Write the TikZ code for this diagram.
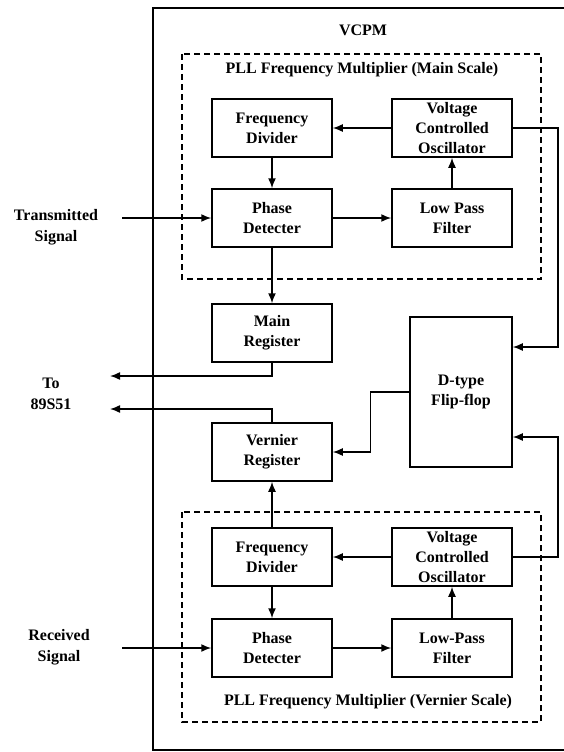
\documentclass[tikz,border=0pt]{standalone}
\usepackage{fontspec}
\setmainfont{Liberation Serif}
\usetikzlibrary{arrows.meta,positioning}
\tikzset{
  blk/.style={draw,line width=1.5pt,minimum width=120pt,minimum height=58pt,
    align=center,inner sep=0pt,font=\bfseries\fontsize{16}{20}\selectfont},
  lbl/.style={align=center,inner sep=0pt,font=\bfseries\fontsize{16}{21}\selectfont},
  pllbox/.style={draw,line width=1.5pt,dash pattern=on 6pt off 4pt},
  wire/.style={line width=1.5pt},
  >={Latex[length=10pt,width=8pt]}
}
\begin{document}
\begin{tikzpicture}[x=1pt,y=-1pt]
\useasboundingbox (0,0) rectangle (564,752);

% VCPM frame
\draw[line width=1.6pt] (564,8) -- (153,8) -- (153,750) -- (564,750);
\node[lbl] (vcpm) at (363,30) {VCPM};

% PLL, main scale
\draw[pllbox] (182,54) rectangle (541,279);
\node[lbl] (titleA) at (362,70) {PLL Frequency Multiplier (Main Scale)};
\node[blk] (fdA) at (272,128) {Frequency\\Divider};
\node[blk] (vcoA) at (452,128) {Voltage\\Controlled\\Oscillator};
\node[blk] (pdA) at (272,218) {Phase\\Detecter};
\node[blk] (lpfA) at (452,218) {Low Pass\\Filter};

% registers and flip-flop
\node[blk] (mreg) at (272,333) {Main\\Register};
\node[blk] (vreg) at (272,452) {Vernier\\Register};
\node[blk,minimum width=102pt,minimum height=150pt] (dff) at (461,392) {D-type\\Flip-flop};

% PLL, vernier scale
\draw[pllbox] (182,512) rectangle (541,722);
\node[lbl] (titleB) at (368,702) {PLL Frequency Multiplier (Vernier Scale)};
\node[blk] (fdB) at (272,557) {Frequency\\Divider};
\node[blk] (vcoB) at (452,557) {Voltage\\Controlled\\Oscillator};
\node[blk] (pdB) at (272,648) {Phase\\Detecter};
\node[blk] (lpfB) at (452,648) {Low-Pass\\Filter};

% outside labels
\node[lbl] (txsig) at (56,227) {Transmitted\\Signal};
\node[lbl] (mcu) at (51,394) {To\\89S51};
\node[lbl] (rxsig) at (59,647) {Received\\Signal};
\coordinate (inA) at (122,218);
\coordinate (inB) at (122,648);
\coordinate (outA) at (110,376);
\coordinate (outB) at (110,409);

% main loop
\draw[wire,->] (inA) -- (pdA);
\draw[wire,->] (vcoA) -- (fdA);
\draw[wire,->] (fdA) -- (pdA);
\draw[wire,->] (pdA) -- (lpfA);
\draw[wire,->] (lpfA) -- (vcoA);
\draw[wire,->] (pdA) -- (mreg);
\draw[wire,->] (mreg.south) |- (outA);
\draw[wire,->] (vcoA.east) -- ++(45,0) |- ([yshift=45pt]dff.east);

% vernier loop
\draw[wire,->] (inB) -- (pdB);
\draw[wire,->] (vcoB) -- (fdB);
\draw[wire,->] (fdB) -- (pdB);
\draw[wire,->] (pdB) -- (lpfB);
\draw[wire,->] (lpfB) -- (vcoB);
\draw[wire,->] (fdB) -- (vreg);
\draw[wire,->] (vreg.north) |- (outB);
\draw[wire,->] (vcoB.east) -- ++(45,0) |- ([yshift=-45pt]dff.east);
\draw[wire,->] (dff.west) -- ++(-39,0) |- (vreg.east);
\end{tikzpicture}
\end{document}
